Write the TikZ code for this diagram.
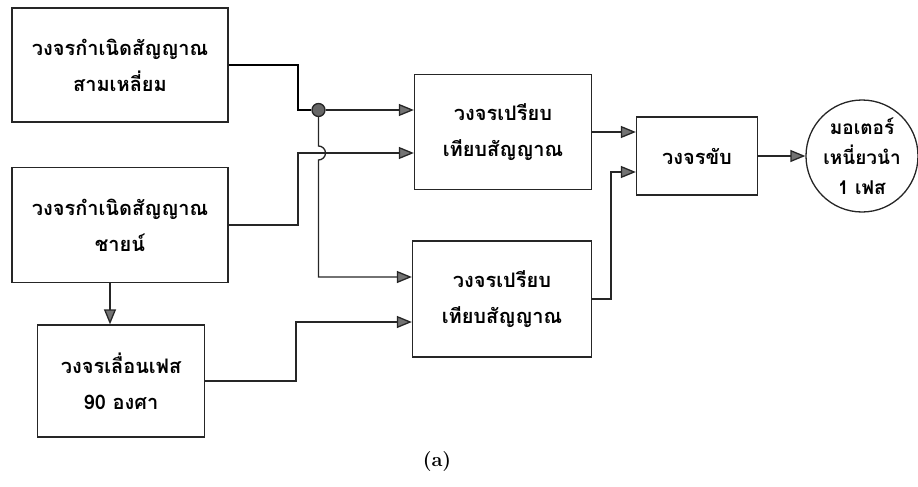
\documentclass[tikz,border=0pt]{standalone}
\usepackage{fontspec}
\usepackage{tikz}
\usetikzlibrary{positioning}
\usetikzlibrary{arrows.meta}
\newfontfamily\thaifont[Script=Thai]{Loma}

\begin{document}
\begin{tikzpicture}[x=1pt, y=-1pt, line width=1.3pt,
  main/.style = {draw=black!85, align=center, inner sep=0pt, font=\thaifont\bfseries\fontsize{20}{36}\selectfont},
  arr/.style = {draw=black!85, -{Triangle[length=15pt,width=12pt,fill=black!55]}}]
\useasboundingbox (0,0) rectangle (918,487);
\node[main, minimum width=216pt, minimum height=114pt] (A) at (120,65) {วงจรกำเนิดสัญญาณ\\สามเหลี่ยม};
\node[main, minimum width=216pt, minimum height=115pt] (B) at (120,225) {วงจรกำเนิดสัญญาณ\\ชายน์};
\node[main, minimum width=167pt, minimum height=112pt] (C) at (121,381) {วงจรเลื่อนเฟส\\90 องศา};
\node[main, minimum width=177pt, minimum height=115pt] (D) at (503,132) {วงจรเปรียบ\\เทียบสัญญาณ};
\node[main, minimum width=179pt, minimum height=116pt] (E) at (502,299) {วงจรเปรียบ\\เทียบสัญญาณ};
\node[main, minimum width=121pt, minimum height=78pt] (F) at (697,156) {วงจรขับ};
\node[main, circle, minimum size=112pt, font=\thaifont\bfseries\fontsize{19}{30}\selectfont] (M) at (862,156) {มอเตอร์\\เหนี่ยวนำ\\1 เฟส};
\node[circle, draw=black!85, fill=black!60, inner sep=0pt, minimum size=13pt] (j) at (318.5,110) {};
\coordinate (k1) at (298,110);
\coordinate (k2) at (298,153);
\coordinate (k3) at (318.5,277);
\coordinate (k4) at (296,322);
\coordinate (k5) at (611,172);
\draw (A.east) -| (k1) -- (j);
\draw[arr] (j) -- (D.west |- j);
\draw[arr] (B.east) -| (k2) -- (D.west |- k2);
% jump over the sine line
\draw[arr] (j) -- ++(0,36) arc[start angle=90, end angle=-90, radius=7pt] -- (k3) -- (E.west |- k3);
\draw[arr] ([xshift=-10pt]B.south) -- ([xshift=-10pt]B.south |- C.north);
\draw[arr] (C.east) -| (k4) -- (E.west |- k4);
\draw[arr] (D.east) -- (F.west |- D.east);
\draw[arr] (E.east) -| (k5) -- (F.west |- k5);
\draw[arr] (F) -- (M);
\node[font=\bfseries\fontsize{20}{24}\selectfont] (cap) at (437,462) {(a)};
\end{tikzpicture}
\end{document}
